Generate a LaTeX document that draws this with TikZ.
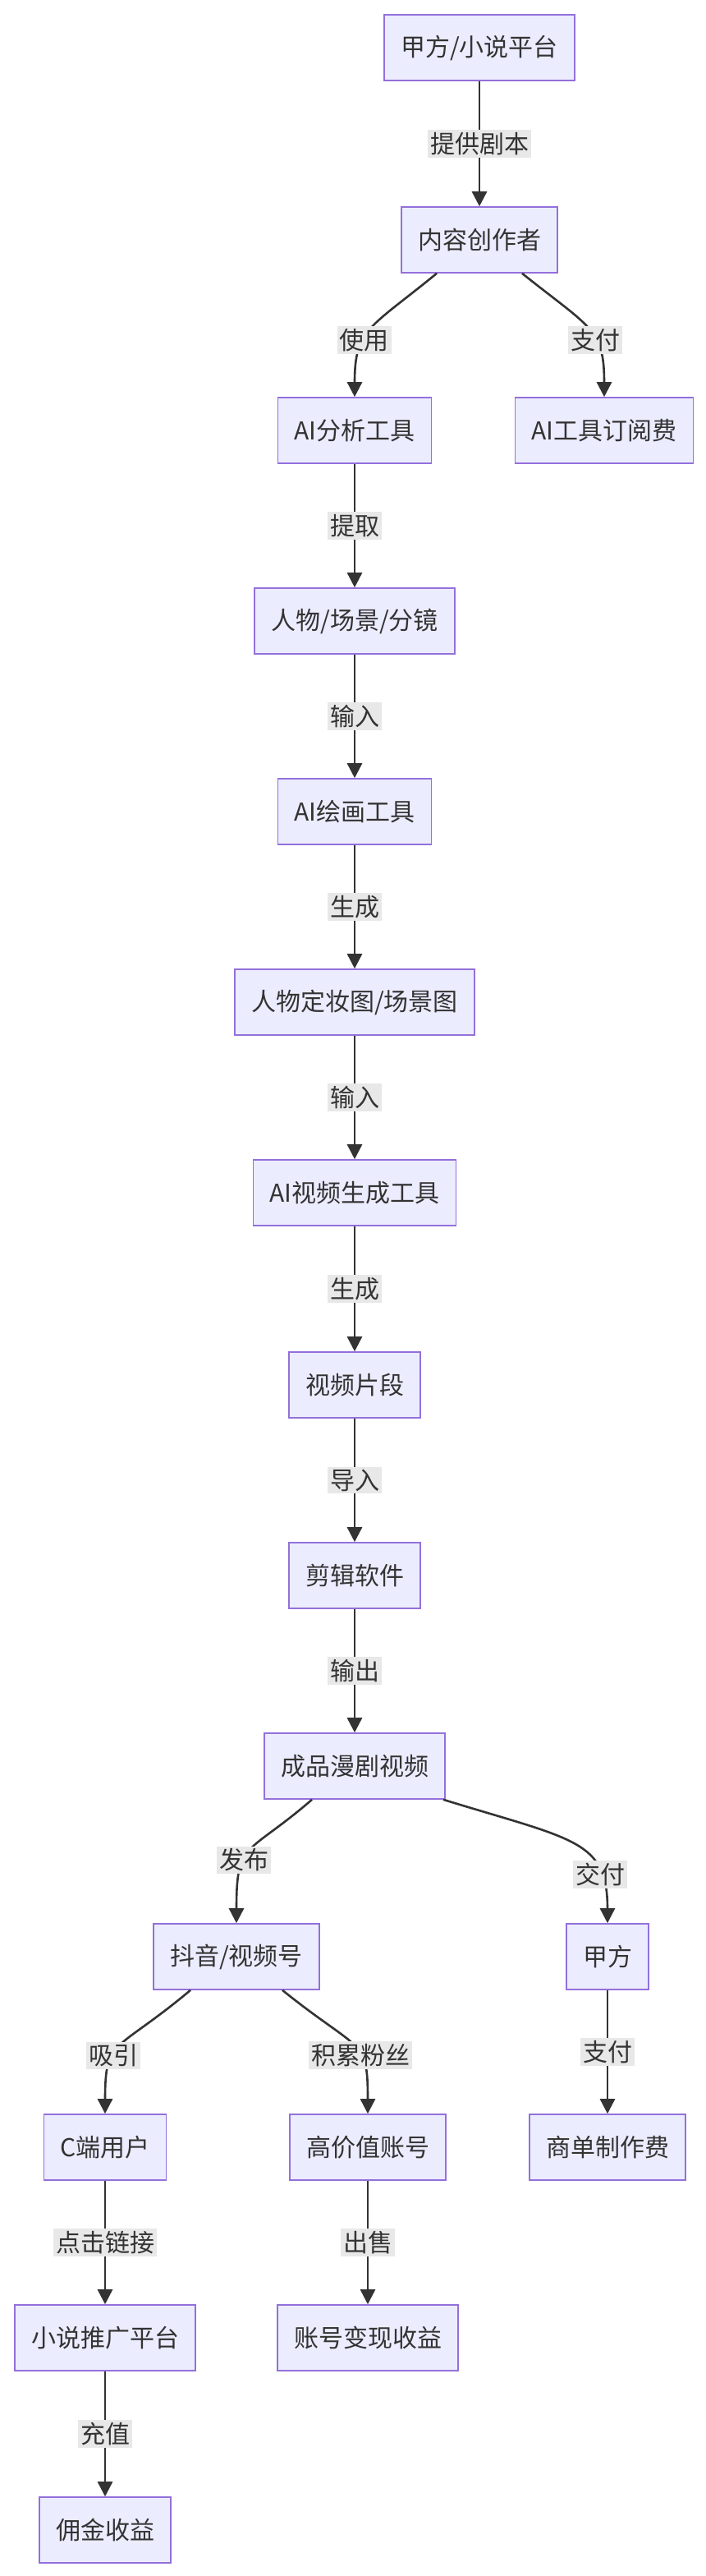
\documentclass[tikz,border=0pt]{standalone}
\usepackage{fontspec}
\setmainfont{Noto Sans CJK SC}
\usetikzlibrary{arrows.meta}
\definecolor{boxfill}{HTML}{ECECFF}
\definecolor{boxline}{HTML}{9370DB}
\definecolor{edgeline}{HTML}{333333}
\definecolor{lblfill}{HTML}{E8E8E8}
\tikzset{
  box/.style={draw=boxline,fill=boxfill,line width=0.8pt,minimum height=40pt,inner xsep=10pt,font=\fontsize{15}{18}\selectfont,text=edgeline},
  flow/.style={draw=edgeline,line width=1.3pt,-{Triangle[length=9pt,width=9pt]}},
  lbl/.style={fill=lblfill,inner sep=1.5pt,font=\fontsize{15}{18}\selectfont,text=edgeline}
}
\begin{document}
\begin{tikzpicture}[x=1pt,y=-1pt]
    \useasboundingbox (0,0) rectangle (430,1568);

    \node[box] (client) at (292,29) {甲方/小说平台};
    \node[box] (creator) at (292,146) {内容创作者};
    \node[box] (analyse) at (216,262) {AI分析工具};
    \node[box] (fee) at (368,262) {AI工具订阅费};
    \node[box] (roles) at (216,378) {人物/场景/分镜};
    \node[box] (paint) at (216,494) {AI绘画工具};
    \node[box] (images) at (216,610) {人物定妆图/场景图};
    \node[box] (video) at (216,726) {AI视频生成工具};
    \node[box] (clips) at (216,843) {视频片段};
    \node[box] (editor) at (216,959) {剪辑软件};
    \node[box] (final) at (216,1075) {成品漫剧视频};
    \node[box] (douyin) at (144,1191) {抖音/视频号};
    \node[box] (party) at (370,1191) {甲方};
    \node[box] (users) at (64,1307) {C端用户};
    \node[box] (account) at (224,1307) {高价值账号};
    \node[box] (order) at (370,1307) {商单制作费};
    \node[box] (novel) at (64,1423) {小说推广平台};
    \node[box] (sale) at (224,1423) {账号变现收益};
    \node[box] (commission) at (64,1540) {佣金收益};

    % straight edges
    \draw[flow] (client) -- node[lbl]{提供剧本} (creator);
    \draw[flow] (analyse) -- node[lbl]{提取} (roles);
    \draw[flow] (roles) -- node[lbl]{输入} (paint);
    \draw[flow] (paint) -- node[lbl]{生成} (images);
    \draw[flow] (images) -- node[lbl]{输入} (video);
    \draw[flow] (video) -- node[lbl]{生成} (clips);
    \draw[flow] (clips) -- node[lbl]{导入} (editor);
    \draw[flow] (editor) -- node[lbl]{输出} (final);
    \draw[flow] (party) -- node[lbl]{支付} (order);
    \draw[flow] (users) -- node[lbl]{点击链接} (novel);
    \draw[flow] (account) -- node[lbl]{出售} (sale);
    \draw[flow] (novel) -- node[lbl]{充值} (commission);

    % branching edges
    \draw[flow] ([xshift=-26pt]creator.south) .. controls (225,200) and (216,200) .. node[lbl,pos=0.6]{使用} (analyse.north);
    \draw[flow] ([xshift=26pt]creator.south) .. controls (360,200) and (368,200) .. node[lbl,pos=0.6]{支付} (fee.north);
    \draw[flow] ([xshift=-26pt]final.south) .. controls (150,1130) and (144,1120) .. node[lbl,pos=0.6]{发布} (douyin.north);
    \draw[flow] ([xshift=54pt]final.south) .. controls (350,1120) and (370,1120) .. node[lbl,pos=0.75]{交付} (party.north);
    \draw[flow] ([xshift=-28pt]douyin.south) .. controls (70,1250) and (64,1240) .. node[lbl,pos=0.6]{吸引} (users.north);
    \draw[flow] ([xshift=28pt]douyin.south) .. controls (220,1250) and (224,1240) .. node[lbl,pos=0.6]{积累粉丝} (account.north);
\end{tikzpicture}
\end{document}
